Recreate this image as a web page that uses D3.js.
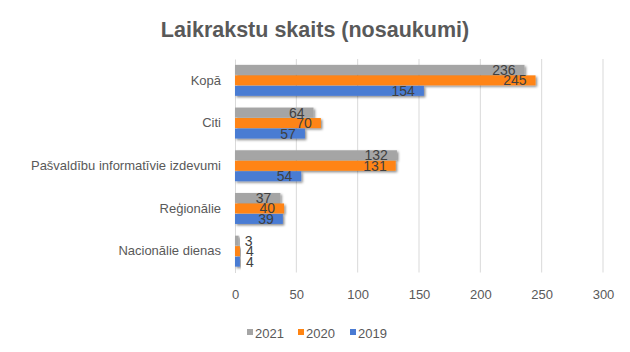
<!DOCTYPE html>
<html><head><meta charset="utf-8">
<script src="https://cdn.jsdelivr.net/npm/d3@7"></script>
<style>
body{margin:0;background:#fff;}
text{font-family:"Liberation Sans",Arial,sans-serif;}
</style></head>
<body><svg id="c" width="630" height="352"></svg>
<script>
const categories = ["Kopā","Citi","Pašvaldību informatīvie izdevumi","Reģionālie","Nacionālie dienas"];
const seriesNames = ["2021","2020","2019"];
const v2021 = [236,64,132,37,3];
const v2020 = [245,70,131,40,4];
const v2019 = [154,57,54,39,4];
const xTicks = [0,50,100,150,200,250,300];
const colors = ["#A5A5A5","#FF8412","#4A7BD3"];
const seriesVals = [v2021,v2020,v2019];

const svg = d3.select("#c");
const defs = svg.append("defs");
const f = defs.append("filter").attr("id","sh").attr("x","-10%").attr("y","-30%").attr("width","130%").attr("height","180%");
f.append("feDropShadow").attr("dx",1.5).attr("dy",1.5).attr("stdDeviation",1.2).attr("flood-color","#000").attr("flood-opacity",0.45);

svg.append("text").attr("x",315).attr("y",37).attr("text-anchor","middle")
  .attr("font-size",21.5).attr("font-weight","bold").attr("fill","#595959")
  .text("Laikrakstu skaits (nosaukumi)");

const x = d3.scaleLinear().domain([0,300]).range([235,603]);
const y = d3.scaleBand().domain(categories).range([59,272.5]).paddingInner(0.25).paddingOuter(0.125);
const ys = d3.scaleBand().domain(seriesNames).range([0,y.bandwidth()]).padding(0.05);

// grid
svg.append("g").selectAll("line").data(xTicks.slice(1)).join("line")
  .attr("x1",d=>x(d)).attr("x2",d=>x(d)).attr("y1",59).attr("y2",272.5)
  .attr("stroke","#D9D9D9").attr("stroke-width",1);

// x axis tick labels
const xa = svg.append("g").attr("transform","translate(0,272.5)")
  .call(d3.axisBottom(x).tickValues(xTicks).tickSize(0).tickPadding(17));
xa.select(".domain").remove();
xa.selectAll("text").attr("font-size",13).attr("fill","#595959").attr("font-family","Liberation Sans, Arial, sans-serif");

// y axis
const ya = svg.append("g").attr("transform","translate(235,0)")
  .call(d3.axisLeft(y).tickSize(0).tickPadding(14));
ya.select(".domain").attr("stroke","#D9D9D9");
ya.selectAll("text").attr("font-size",13).attr("fill","#595959").attr("font-family","Liberation Sans, Arial, sans-serif");

// bars
const rows = [];
categories.forEach((c,i)=>seriesNames.forEach((s,j)=>rows.push({c,s,v:seriesVals[j][i],col:colors[j]})));
svg.append("g").selectAll("rect").data(rows).join("rect")
  .attr("x",x(0)).attr("y",d=>y(d.c)+ys(d.s))
  .attr("width",d=>x(d.v)-x(0)).attr("height",ys.bandwidth())
  .attr("fill",d=>d.col).attr("filter","url(#sh)");

// labels
svg.append("g").selectAll("text").data(rows).join("text")
  .attr("x",d=> d.v<20 ? x(d.v)+6 : x(d.v)-9)
  .attr("y",d=>y(d.c)+ys(d.s)+ys.bandwidth()/2+5)
  .attr("text-anchor",d=> d.v<20 ? "start":"end")
  .attr("font-size",14).attr("fill","#404040")
  .text(d=>d.v);

// legend
const lg = svg.append("g");
const lx = [247,298,350];
seriesNames.forEach((s,j)=>{
  lg.append("rect").attr("x",lx[j]).attr("y",329).attr("width",6).attr("height",6).attr("fill",colors[j]);
  lg.append("text").attr("x",lx[j]+8).attr("y",338).attr("font-size",13).attr("fill","#595959").text(s);
});
</script></body></html>
